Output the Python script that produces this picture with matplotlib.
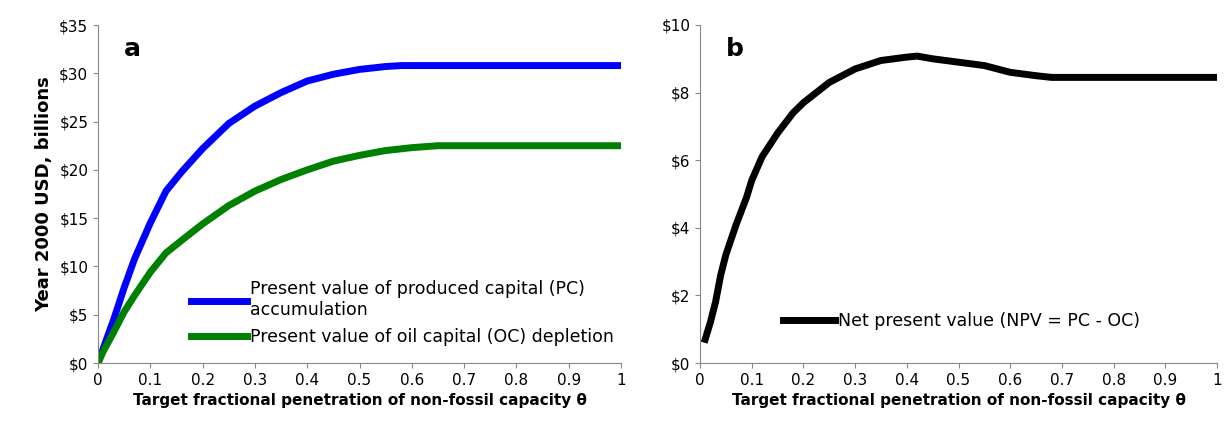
import matplotlib
matplotlib.use("Agg")
import matplotlib.pyplot as plt

x_pc = [0, 0.01, 0.03, 0.05, 0.07, 0.1, 0.13, 0.16, 0.2, 0.25, 0.3, 0.35, 0.4, 0.45, 0.5, 0.55, 0.58, 0.6, 0.7, 0.8, 0.9, 1.0]
pc = [0, 1.5, 4.5, 7.8, 10.8, 14.5, 17.8, 19.8, 22.2, 24.8, 26.6, 28.0, 29.2, 29.9, 30.4, 30.7, 30.8, 30.8, 30.8, 30.8, 30.8, 30.8]
x_oc = [0, 0.01, 0.03, 0.05, 0.07, 0.1, 0.13, 0.16, 0.2, 0.25, 0.3, 0.35, 0.4, 0.45, 0.5, 0.55, 0.6, 0.65, 0.7, 0.8, 0.9, 1.0]
oc = [0, 1.2, 3.2, 5.3, 7.0, 9.4, 11.4, 12.7, 14.4, 16.3, 17.8, 19.0, 20.0, 20.9, 21.5, 22.0, 22.3, 22.5, 22.5, 22.5, 22.5, 22.5]
x_npv = [0.01, 0.02, 0.03, 0.04, 0.05, 0.07, 0.09, 0.1, 0.12, 0.15, 0.18, 0.2, 0.25, 0.3, 0.35, 0.4, 0.42, 0.45, 0.5, 0.55, 0.6, 0.65, 0.68, 0.7, 0.8, 0.9, 1.0]
npv = [0.7, 1.2, 1.8, 2.6, 3.2, 4.1, 4.9, 5.4, 6.1, 6.8, 7.4, 7.7, 8.3, 8.7, 8.95, 9.05, 9.08, 9.0, 8.9, 8.8, 8.6, 8.5, 8.45, 8.45, 8.45, 8.45, 8.45]

fig = plt.figure(figsize=(12.24, 4.21), dpi=100)
axa = fig.add_axes([98/1224, 1-363/421, 523/1224, 338/421])
axb = fig.add_axes([700/1224, 1-363/421, 517/1224, 338/421])

axa.plot(x_pc, pc, color="#0000ff", lw=5, label="Present value of produced capital (PC)\naccumulation")
axa.plot(x_oc, oc, color="#008000", lw=5, label="Present value of oil capital (OC) depletion")
axb.plot(x_npv, npv, color="black", lw=5, label="Net present value (NPV = PC - OC)")

axa.set_ylim(0, 35); axa.set_yticks(range(0, 36, 5))
axa.set_yticklabels([f"${v}" for v in range(0, 36, 5)])
axb.set_ylim(0, 10); axb.set_yticks(range(0, 11, 2))
axb.set_yticklabels([f"${v}" for v in range(0, 11, 2)])
for ax, lab in ((axa, "a"), (axb, "b")):
    ax.set_xlim(0, 1)
    ax.set_xticks([i/10 for i in range(11)])
    ax.set_xticklabels(["0"] + [f"{i/10:g}" for i in range(1, 10)] + ["1"])
    for s in ("top", "right"):
        ax.spines[s].set_visible(False)
    for s in ("left", "bottom"):
        ax.spines[s].set_color("#888888")
    ax.tick_params(labelsize=11, color="#888888")
    ax.set_xlabel("Target fractional penetration of non-fossil capacity θ", fontsize=11, fontweight="bold")
    ax.text(0.05, 0.93, lab, transform=ax.transAxes, fontsize=18, fontweight="bold", va="center")
axa.set_ylabel("Year 2000 USD, billions", fontsize=13, fontweight="bold")
axa.legend(loc="lower right", bbox_to_anchor=(1.0, 0.03), frameon=False, fontsize=12.5, handlelength=3.2, handletextpad=0.2, borderaxespad=0)
axb.legend(loc="lower left", bbox_to_anchor=(0.13, 0.05), frameon=False, fontsize=12.5, handlelength=3.0, handletextpad=0.2)
fig.savefig("out.png", dpi=100)
